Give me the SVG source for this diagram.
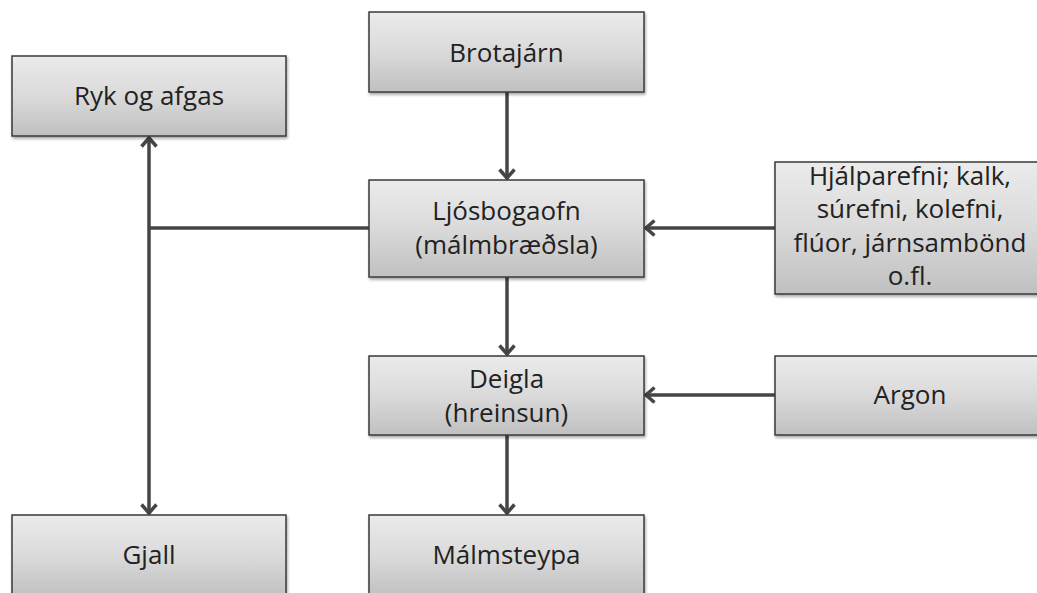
<svg xmlns="http://www.w3.org/2000/svg" width="1037" height="593" viewBox="0 0 1037 593">
<defs>
<linearGradient id="g" x1="0" y1="0" x2="0" y2="1">
<stop offset="0" stop-color="#ebebeb"/>
<stop offset="0.5" stop-color="#dadada"/>
<stop offset="1" stop-color="#c0c0c0"/>
</linearGradient>
<filter id="sh" x="-5%" y="-5%" width="115%" height="125%">
<feGaussianBlur in="SourceAlpha" stdDeviation="1.5"/>
<feOffset dx="1" dy="2" result="b"/>
<feComponentTransfer><feFuncA type="linear" slope="0.35"/></feComponentTransfer>
<feMerge><feMergeNode/><feMergeNode in="SourceGraphic"/></feMerge>
</filter>
<marker id="ah" markerUnits="userSpaceOnUse" markerWidth="20" markerHeight="20" refX="11" refY="10" orient="auto" viewBox="0 0 20 20">
<path d="M1.5,2.5 L10,10 L1.5,17.5" fill="none" stroke="#454545" stroke-width="3.5" stroke-linejoin="miter"/>
</marker>
</defs>
<style>
.box{fill:url(#g);stroke:#3a3a3a;stroke-width:1.5;filter:url(#sh)}
.t{font-family:"Open Sans","Liberation Sans",sans-serif;font-size:26px;fill:#222222;text-anchor:middle}
.c{fill:none;stroke:#454545;stroke-width:3.5}
</style>
<rect width="1037" height="593" fill="#ffffff"/>
<g id="connectors">
<line class="c" x1="507" y1="92" x2="507" y2="179" marker-end="url(#ah)"/>
<line class="c" x1="507" y1="277" x2="507" y2="355" marker-end="url(#ah)"/>
<line class="c" x1="507" y1="435" x2="507" y2="514" marker-end="url(#ah)"/>
<line class="c" x1="775" y1="228" x2="645" y2="228" marker-end="url(#ah)"/>
<line class="c" x1="775" y1="395" x2="645" y2="395" marker-end="url(#ah)"/>
<line class="c" x1="369" y1="228" x2="149" y2="228"/>
<line class="c" x1="149" y1="228" x2="149" y2="137" marker-end="url(#ah)"/>
<line class="c" x1="149" y1="228" x2="149" y2="514" marker-end="url(#ah)"/>
</g>
<g id="brotajarn">
<rect class="box" x="369" y="12" width="275" height="80"/>
<text class="t" x="506.5" y="62">Brotajárn</text>
</g>
<g id="ryk">
<rect class="box" x="12" y="56" width="274" height="80"/>
<text class="t" x="149" y="105">Ryk og afgas</text>
</g>
<g id="ljosbogaofn">
<rect class="box" x="369" y="180" width="275" height="97"/>
<text class="t" x="506.5" y="220">Ljósbogaofn</text>
<text class="t" x="506.5" y="254">(málmbræðsla)</text>
</g>
<g id="hjalparefni">
<rect class="box" x="775" y="162" width="270" height="132"/>
<text class="t" x="910" y="185">Hjálparefni; kalk,</text>
<text class="t" x="910" y="218">súrefni, kolefni,</text>
<text class="t" x="910" y="252">flúor, járnsambönd</text>
<text class="t" x="910" y="285">o.fl.</text>
</g>
<g id="deigla">
<rect class="box" x="369" y="356" width="275" height="79"/>
<text class="t" x="506.5" y="388">Deigla</text>
<text class="t" x="506.5" y="422">(hreinsun)</text>
</g>
<g id="argon">
<rect class="box" x="775" y="356" width="270" height="79"/>
<text class="t" x="910" y="404">Argon</text>
</g>
<g id="gjall">
<rect class="box" x="12" y="515" width="274" height="82"/>
<text class="t" x="149" y="564">Gjall</text>
</g>
<g id="malmsteypa">
<rect class="box" x="369" y="515" width="275" height="82"/>
<text class="t" x="506.5" y="564">Málmsteypa</text>
</g>
</svg>
